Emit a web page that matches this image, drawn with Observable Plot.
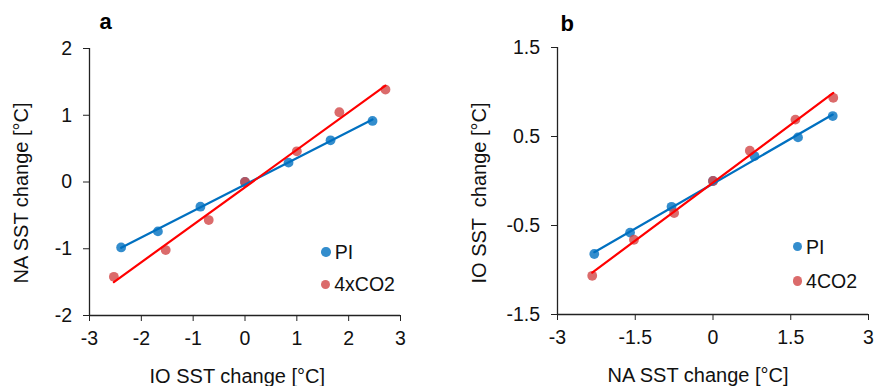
<!DOCTYPE html>
<html><head><meta charset="utf-8">
<script src="https://cdn.jsdelivr.net/npm/d3@7"></script>
<script src="https://cdn.jsdelivr.net/npm/@observablehq/plot@0.6"></script>
<style>
body{margin:0;background:#fff;font-family:"Liberation Sans",Arial,sans-serif;}
#wrap{display:flex;width:875px;height:386px;overflow:hidden;}
.panel{position:relative;}
.item{position:absolute;display:flex;align-items:center;white-space:nowrap;font-size:19.5px;line-height:22px;color:#111;}
.sw{width:9.5px;height:9.5px;border-radius:50%;margin-right:4px;}
.ylab{position:absolute;white-space:pre;font-size:20px;line-height:22px;color:#111;transform:translate(-50%,-50%) rotate(-90deg);}
</style>
</head><body>
<div id="wrap"><div class="panel" id="pa"></div><div class="panel" id="pb"></div></div>
<script>
// ---- data ----
const seriesNames = ["PI", "4xCO2"];
const seriesNamesB = ["PI", "4CO2"];
// Panel a: IO SST change (x) vs NA SST change (y)
const aPI_x  = [-2.39, -1.68, -0.86, 0, 0.84, 1.65, 2.46];
const aPI_y  = [-0.98, -0.74, -0.37, 0, 0.29, 0.625, 0.915];
const aCO2_x = [-2.53, -1.53, -0.70, 0, 1.00, 1.82, 2.71];
const aCO2_y = [-1.42, -1.02, -0.57, 0, 0.46, 1.045, 1.385];
// Panel b: NA SST change (x) vs IO SST change (y)
const bPI_x  = [-2.29, -1.60, -0.80, 0, 0.80, 1.64, 2.31];
const bPI_y  = [-0.82, -0.58, -0.29, 0, 0.28, 0.49, 0.73];
const bCO2_x = [-2.33, -1.525, -0.75, 0, 0.71, 1.59, 2.32];
const bCO2_y = [-1.065, -0.66, -0.36, 0, 0.34, 0.69, 0.935];
// ticks
const aXTicks = [-3, -2, -1, 0, 1, 2, 3];
const aYTicks = [-2, -1, 0, 1, 2];
const bXTicks = [-3, -1.5, 0, 1.5, 3];
const bYTicks = [-1.5, -0.5, 0.5, 1.5];
// labels
const aXLabel = "IO SST change [°C]";
const aYLabel = "NA SST change [°C]";
const bXLabel = "NA SST change [°C]";
const bYLabel = "IO SST  change [°C]";

const BLUE_PT = "#0070c0", RED_PT = "#d24646";
const BLUE_LN = "#0070c0", RED_LN = "#ff0000";

function rows(xs, ys, s) { return xs.map((x, i) => ({x, y: ys[i], s})); }

function panel(cfg) {
  const pi = rows(cfg.piX, cfg.piY, "PI");
  const co = rows(cfg.coX, cfg.coY, "CO2");
  const fmt = d => String(d);
  return Plot.plot({
    width: cfg.width, height: 386,
    marginLeft: cfg.ml, marginRight: cfg.mr, marginTop: cfg.mt, marginBottom: cfg.mb,
    style: {fontFamily: '"Liberation Sans", Arial, sans-serif', fontSize: "19.5px", color: "#111", background: "#fff", overflow: "visible"},
    x: {domain: [cfg.xTicks[0], cfg.xTicks[cfg.xTicks.length - 1]]},
    y: {domain: [cfg.yDom[0], cfg.yDom[1]]},
    marks: [
      Plot.axisX({ticks: cfg.xTicks, tickFormat: fmt, tickSize: 6, tickPadding: 10, label: null, stroke: "#222"}),
      Plot.axisY({ticks: cfg.yTicks, tickFormat: fmt, tickSize: 6, tickPadding: 11.5, label: null, stroke: "#222"}),
      Plot.ruleY([cfg.yDom[0]], {stroke: "#222", strokeWidth: 1.3}),
      Plot.ruleX([cfg.xTicks[0]], {stroke: "#222", strokeWidth: 1.3}),
      Plot.dot(pi, {x: "x", y: "y", r: 4.9, fill: BLUE_PT, fillOpacity: 0.8}),
      Plot.dot(co, {x: "x", y: "y", r: 4.9, fill: RED_PT, fillOpacity: 0.8}),
      Plot.linearRegressionY(pi, {x: "x", y: "y", stroke: BLUE_LN, strokeWidth: 2.2, ci: 0}),
      Plot.linearRegressionY(co, {x: "x", y: "y", stroke: RED_LN, strokeWidth: 2.2, ci: 0}),
      Plot.text([cfg.letter], {text: d => d, frameAnchor: "top-left", dx: cfg.ldx, dy: cfg.ldy, textAnchor: "start", lineAnchor: "middle", fontWeight: "bold", fontSize: 22, fill: "#000"}),
      Plot.text([cfg.xLabel], {text: d => d, frameAnchor: "bottom", dx: cfg.xlDx, dy: 61, lineAnchor: "middle", fontSize: 20, fill: "#111"})
    ]
  });
}

function legend(el, names, items) {
  names.forEach((n, i) => {
    const it = document.createElement("div");
    it.className = "item";
    it.style.left = (items[i][0] - 4.75) + "px";
    it.style.top = (items[i][1] - 11) + "px";
    const sw = document.createElement("span");
    sw.className = "sw";
    sw.style.background = i === 0 ? BLUE_PT : RED_PT;
    sw.style.opacity = 0.8;
    const tx = document.createElement("span");
    tx.textContent = n;
    it.appendChild(sw); it.appendChild(tx);
    el.appendChild(it);
  });
}

function yLabel(el, text, cx, cy) {
  const d = document.createElement("div");
  d.className = "ylab";
  d.textContent = text;
  d.style.left = cx + "px";
  d.style.top = cy + "px";
  el.appendChild(d);
}

const pa = document.getElementById("pa");
pa.appendChild(panel({
  width: 437, ml: 89, mr: 37, mt: 48, mb: 71,
  piX: aPI_x, piY: aPI_y, coX: aCO2_x, coY: aCO2_y,
  xTicks: aXTicks, yTicks: aYTicks, yDom: [-2, 2],
  letter: "a", ldx: 10, ldy: -27,
  xLabel: aXLabel, xlDx: -7.7
}));
legend(pa, seriesNames, [[326, 252], [325.5, 284.3]]);
yLabel(pa, aYLabel, 20.5, 192.5);

const pb = document.getElementById("pb");
pb.appendChild(panel({
  width: 438, ml: 120, mr: 7, mt: 47, mb: 72,
  piX: bPI_x, piY: bPI_y, coX: bCO2_x, coY: bCO2_y,
  xTicks: bXTicks, yTicks: bYTicks, yDom: [-1.5, 1.5],
  letter: "b", ldx: 3, ldy: -24,
  xLabel: bXLabel, xlDx: -15
}));
legend(pb, seriesNamesB, [[360.3, 246.7], [360.3, 281]]);
yLabel(pb, bYLabel, 41.5, 193);
</script>
</body></html>
